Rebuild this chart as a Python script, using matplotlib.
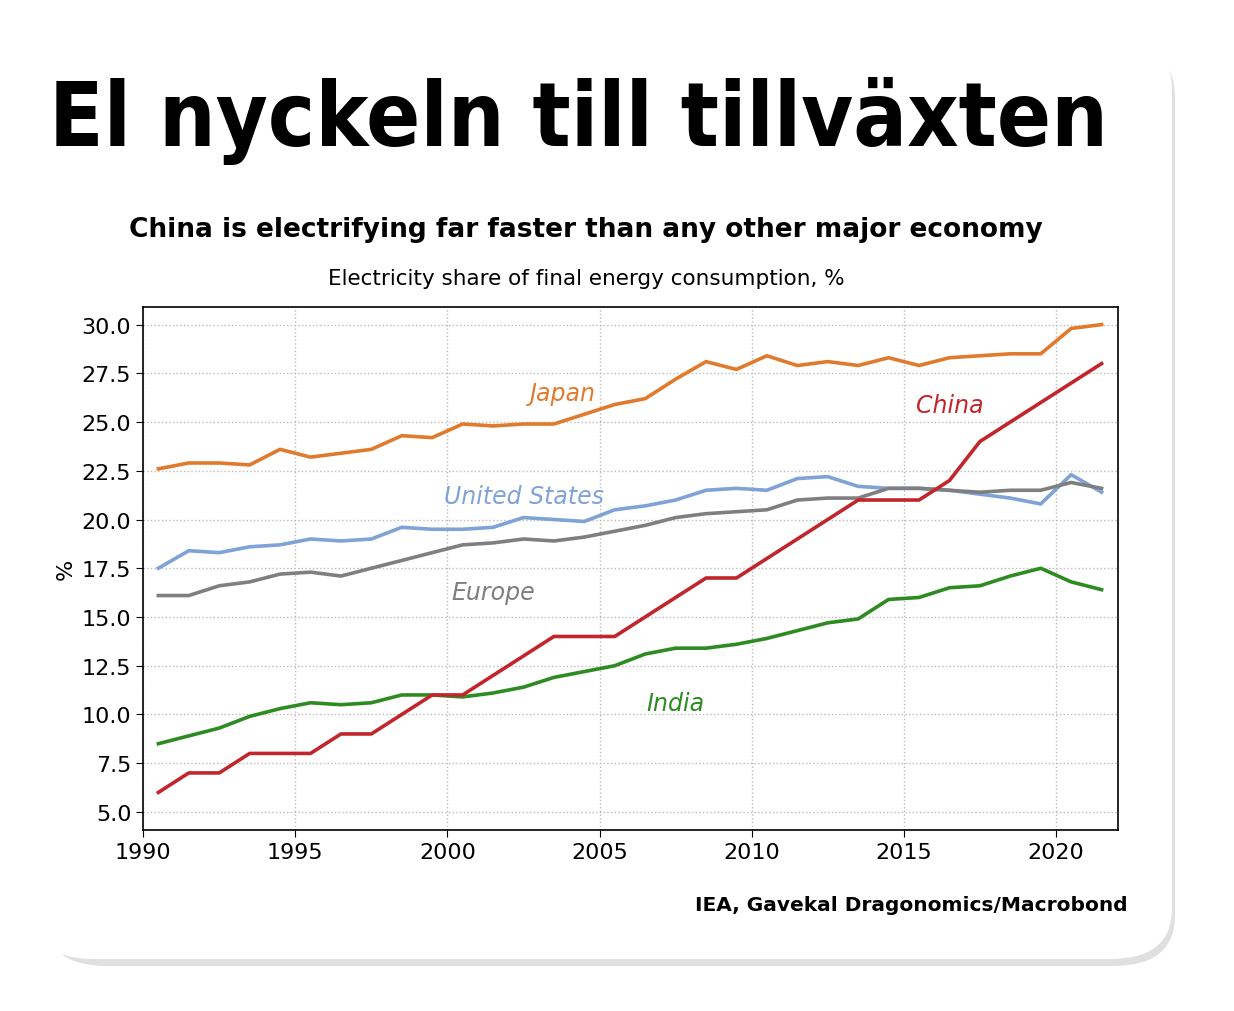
import numpy as np
import matplotlib.pyplot as plt
from matplotlib.patches import FancyBboxPatch

years = np.arange(1990, 2022) + 0.5
china = [6, 7, 7, 8, 8, 8, 9, 9, 10, 11, 11, 12, 13, 14, 14, 14, 15, 16, 17, 17, 18, 19, 20, 21, 21, 21, 22, 24, 25, 26, 27, 28]
japan = [22.6, 22.9, 22.9, 22.8, 23.6, 23.2, 23.4, 23.6, 24.3, 24.2, 24.9, 24.8, 24.9, 24.9, 25.4, 25.9, 26.2, 27.2, 28.1, 27.7, 28.4, 27.9, 28.1, 27.9, 28.3, 27.9, 28.3, 28.4, 28.5, 28.5, 29.8, 30.0]
usa = [17.5, 18.4, 18.3, 18.6, 18.7, 19.0, 18.9, 19.0, 19.6, 19.5, 19.5, 19.6, 20.1, 20.0, 19.9, 20.5, 20.7, 21.0, 21.5, 21.6, 21.5, 22.1, 22.2, 21.7, 21.6, 21.6, 21.5, 21.3, 21.1, 20.8, 22.3, 21.4]
europe = [16.1, 16.1, 16.6, 16.8, 17.2, 17.3, 17.1, 17.5, 17.9, 18.3, 18.7, 18.8, 19.0, 18.9, 19.1, 19.4, 19.7, 20.1, 20.3, 20.4, 20.5, 21.0, 21.1, 21.1, 21.6, 21.6, 21.5, 21.4, 21.5, 21.5, 21.9, 21.6]
india = [8.5, 8.9, 9.3, 9.9, 10.3, 10.6, 10.5, 10.6, 11.0, 11.0, 10.9, 11.1, 11.4, 11.9, 12.2, 12.5, 13.1, 13.4, 13.4, 13.6, 13.9, 14.3, 14.7, 14.9, 15.9, 16.0, 16.5, 16.6, 17.1, 17.5, 16.8, 16.4]

series = [("Japan", japan, "#e07b2e", (2003.8, 26.5)),
          ("United States", usa, "#7fa3d6", (2002.5, 21.2)),
          ("Europe", europe, "#7f7f7f", (2001.5, 16.3)),
          ("India", india, "#2e8b22", (2007.5, 10.6)),
          ("China", china, "#c0262c", (2016.5, 25.9))]

plt.rcParams['font.family'] = ['DejaVu Sans']

fig = plt.figure(figsize=(12.34, 10.12), dpi=100)
# card with shadow
fig.patches.append(FancyBboxPatch((45/1234, 45/1012), 1130/1234, 920/1012,
                                  boxstyle="round,pad=0,rounding_size=0.05", zorder=-10,
                                  transform=fig.transFigure, fc="#cccccc", ec="none", alpha=0.6))
fig.patches.append(FancyBboxPatch((32/1234, 52/1012), 1140/1234, 920/1012,
                                  boxstyle="round,pad=0,rounding_size=0.05", zorder=-9,
                                  transform=fig.transFigure, fc="white", ec="none"))

fig.text(0.04, 0.88, "El nyckeln till tillväxten", fontsize=64, fontweight="bold",
         fontstretch="condensed", va="center", ha="left")
fig.text(0.475, 0.773, "China is electrifying far faster than any other major economy",
         fontsize=19, fontweight="bold", ha="center", va="center")
fig.text(0.475, 0.724, "Electricity share of final energy consumption, %",
         fontsize=15.5, ha="center", va="center")

ax = fig.add_axes([0.116, 0.179, 0.79, 0.517])
for name, vals, col, pos in series:
    ax.plot(years, vals, color=col, lw=2.6)
    ax.text(pos[0], pos[1], name, color=col, fontsize=17, style="italic", ha="center", va="center")

ax.set_xlim(1990, 2022.04)
ax.set_ylim(4.08, 30.92)
ax.set_xticks(range(1990, 2021, 5))
ax.set_yticks(np.arange(5, 30.1, 2.5))
ax.set_yticklabels([f"{v:.1f}" for v in np.arange(5, 30.1, 2.5)])
ax.tick_params(labelsize=16, length=5)
ax.set_ylabel("%", fontsize=16)
ax.grid(True, ls=":", color="#bbbbbb", lw=1)
for s in ax.spines.values():
    s.set_linewidth(1.2)

fig.text(0.914, 0.105, "IEA, Gavekal Dragonomics/Macrobond", fontsize=14.5, fontweight="bold",
         ha="right", va="center")

fig.savefig("out.png", dpi=100)
